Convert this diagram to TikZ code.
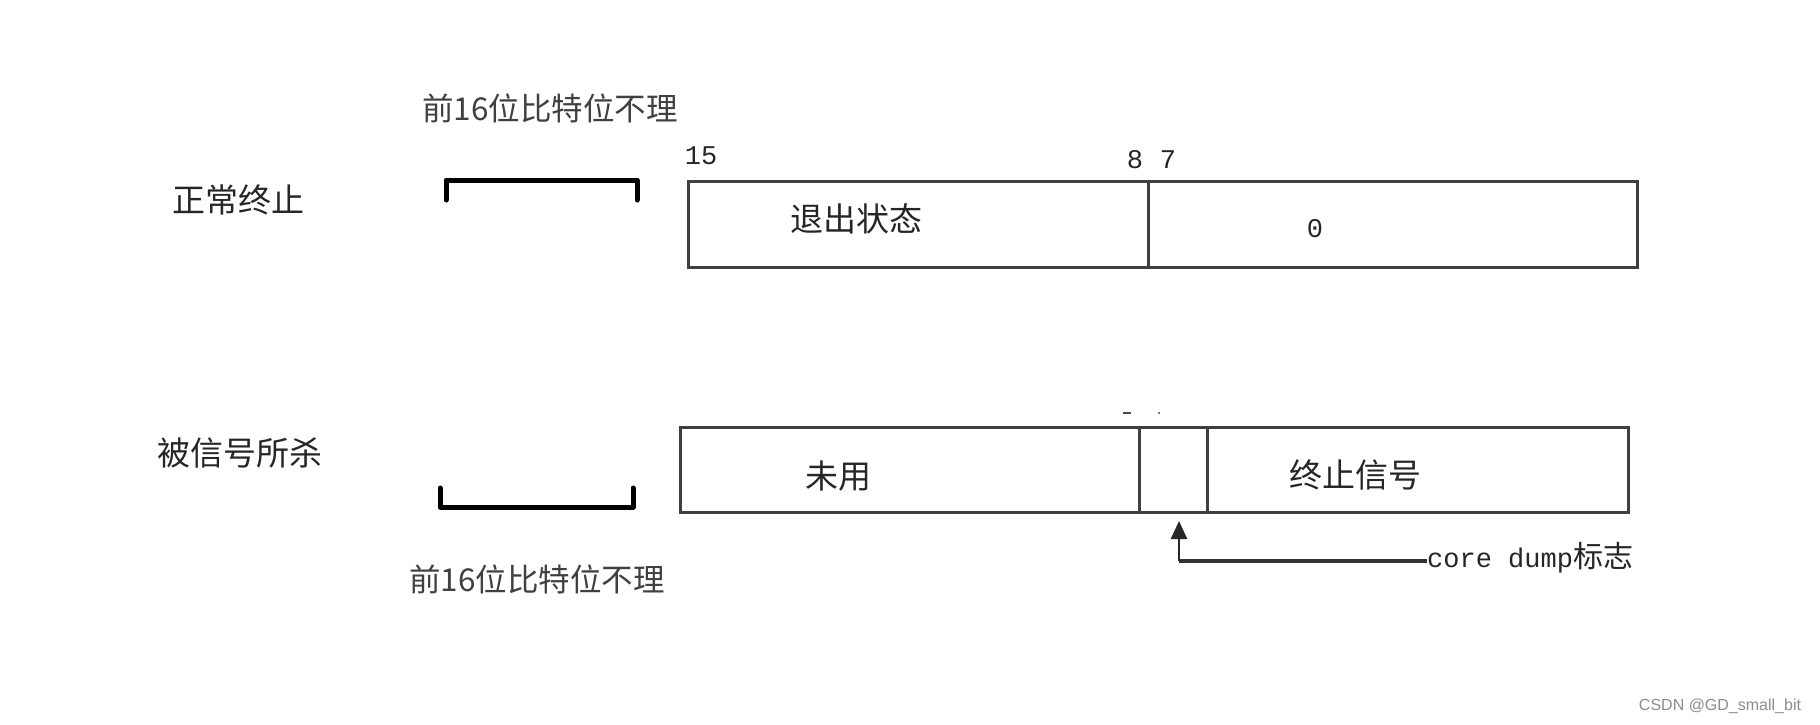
\documentclass[tikz,border=0pt]{standalone}
\usepackage{fontspec}
\newfontfamily\cjk{Noto Sans CJK SC}
\newfontfamily\mono{Liberation Mono}
\newfontfamily\wmfont{Liberation Sans}
\usetikzlibrary{arrows.meta}
\begin{document}
\begin{tikzpicture}[x=1pt,y=-1pt,
  lbl/.style={font=\cjk\fontsize{33}{33}\selectfont, inner sep=0pt, text=black!85},
  ign/.style={font=\cjk\fontsize{31.5}{31.5}\selectfont, inner sep=0pt, text=black!75},
  num/.style={font=\mono\fontsize{27}{27}\selectfont, inner sep=0pt, text=black!85},
  boxline/.style={draw=black!75, line width=3pt},
  brk/.style={draw=black, line width=5pt, line cap=round, line join=round},
]
\useasboundingbox (0,0) rectangle (1820,724);
\fill[white] (0,0) rectangle (1820,724);

% row labels
\node[lbl] (normal) at (238,200) {正常终止};
\node[lbl] (killed) at (240,453) {被信号所杀};

% top row
\node[ign] (ignTop) at (550,108) {前16位比特位不理};
\draw[brk] (446,200) -- (446,180) -- (637,180) -- (637,200);
\node[num] (b15) at (701,156) {15};
\node[num] (b8) at (1135,160) {8};
\node[num] (b7) at (1168,160) {7};
\draw[boxline] (688,181) rectangle (1637,267);
\draw[boxline] (1148,181) -- (1148,267);
\node[lbl] (exitst) at (856,219) {退出状态};
\node[num] (zero) at (1315,229) {0};

% bottom row
\draw[brk] (440,488) -- (440,507) -- (633,507) -- (633,488);
\node[ign] (ignBot) at (537,579) {前16位比特位不理};
\draw[boxline] (680,427) rectangle (1628,512);
\draw[boxline] (1139,427) -- (1139,512);
\draw[boxline] (1207,427) -- (1207,512);
\draw[black!70, line width=2pt] (1123,413) -- (1131,413);
\fill[black!70] (1159,413) circle (1.2pt);
\node[lbl] (unused) at (838,476) {未用};
\node[lbl] (termsig) at (1355,475) {终止信号};

% core dump pointer
\node[inner sep=0pt, anchor=west, text=black!85] (cd) at (1427,558)
  {{\mono\fontsize{27}{27}\selectfont core dump}{\cjk\fontsize{30}{30}\selectfont 标志}};
\coordinate (corner) at (1179,561);
\coordinate (tip) at (1179,521);
\draw[black!80, line width=4pt] (cd.west |- corner) -- (corner);
\draw[black!85, line width=2.5pt, -{Triangle[length=18pt,width=16pt]}] (corner) -- (tip);

% watermark
\node[font=\wmfont\fontsize{16}{16}\selectfont, text=black!45, inner sep=0pt] (wm) at (1720,706) {CSDN @GD\_small\_bit};
\end{tikzpicture}
\end{document}
